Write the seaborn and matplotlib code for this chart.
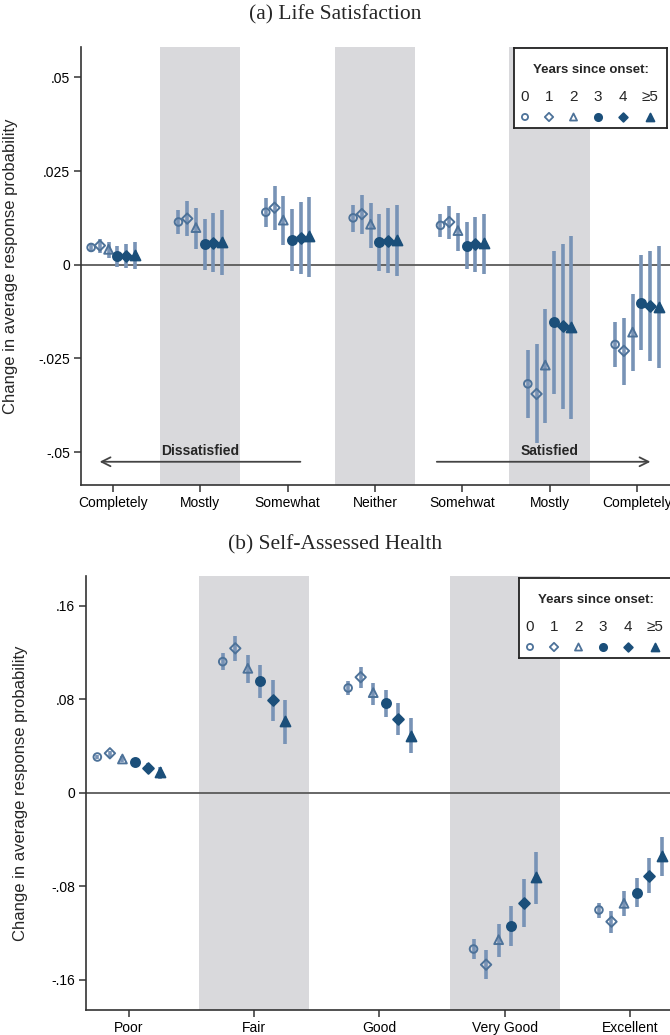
import numpy as np
import matplotlib
matplotlib.use("Agg")
import matplotlib.pyplot as plt
import seaborn as sns

# ---------------------------------------------------------------- data
years = ["0", "1", "2", "3", "4", "\u22655"]

ls_categories = ["Completely", "Mostly", "Somewhat", "Neither",
                 "Somehwat", "Mostly", "Completely"]
# rows: years since onset (0, 1, 2, 3, 4, >=5); columns: response categories
ls_est = [
    [0.0046, 0.0114, 0.0140, 0.0125, 0.0105, -0.0318, -0.0213],
    [0.0051, 0.0123, 0.0152, 0.0135, 0.0114, -0.0345, -0.0230],
    [0.0041, 0.0099, 0.0119, 0.0108, 0.0091, -0.0268, -0.0180],
    [0.0023, 0.0055, 0.0067, 0.0061, 0.0050, -0.0154, -0.0103],
    [0.0024, 0.0058, 0.0071, 0.0064, 0.0054, -0.0164, -0.0109],
    [0.0026, 0.0061, 0.0076, 0.0067, 0.0058, -0.0165, -0.0112],
]
ls_lo = [
    [0.0034, 0.0083, 0.0101, 0.0088, 0.0075, -0.0409, -0.0273],
    [0.0032, 0.0076, 0.0093, 0.0082, 0.0069, -0.0477, -0.0320],
    [0.0018, 0.0043, 0.0052, 0.0045, 0.0037, -0.0422, -0.0283],
    [-0.0005, -0.0014, -0.0017, -0.0016, -0.0012, -0.0344, -0.0229],
    [-0.0009, -0.0020, -0.0025, -0.0023, -0.0019, -0.0384, -0.0257],
    [-0.0012, -0.0027, -0.0034, -0.0030, -0.0026, -0.0412, -0.0275],
]
ls_hi = [
    [0.0057, 0.0146, 0.0179, 0.0159, 0.0134, -0.0228, -0.0154],
    [0.0069, 0.0171, 0.0209, 0.0187, 0.0157, -0.0212, -0.0142],
    [0.0061, 0.0151, 0.0184, 0.0165, 0.0139, -0.0118, -0.0079],
    [0.0050, 0.0123, 0.0149, 0.0134, 0.0113, 0.0037, 0.0025],
    [0.0056, 0.0138, 0.0167, 0.0150, 0.0127, 0.0056, 0.0037],
    [0.0061, 0.0147, 0.0181, 0.0160, 0.0136, 0.0077, 0.0051],
]
ls_yticks = [0.05, 0.025, 0, -0.025, -0.05]
ls_yticklabels = [".05", ".025", "0", "-.025", "-.05"]

sah_categories = ["Poor", "Fair", "Good", "Very Good", "Excellent"]
sah_est = [
    [0.0305, 0.1121, 0.0896, -0.1338, -0.1004],
    [0.0337, 0.1235, 0.0988, -0.1472, -0.1104],
    [0.0288, 0.1064, 0.0856, -0.1258, -0.0947],
    [0.0260, 0.0956, 0.0765, -0.1141, -0.0859],
    [0.0214, 0.0791, 0.0631, -0.0944, -0.0710],
    [0.0175, 0.0611, 0.0488, -0.0722, -0.0542],
]
sah_lo = [
    [0.0290, 0.1047, 0.0839, -0.1424, -0.1070],
    [0.0308, 0.1127, 0.0899, -0.1597, -0.1198],
    [0.0263, 0.0941, 0.0751, -0.1404, -0.1053],
    [0.0231, 0.0813, 0.0651, -0.1310, -0.0981],
    [0.0171, 0.0616, 0.0494, -0.1150, -0.0861],
    [0.0115, 0.0419, 0.0337, -0.0950, -0.0716],
]
sah_hi = [
    [0.0320, 0.1193, 0.0956, -0.1255, -0.0942],
    [0.0359, 0.1341, 0.1073, -0.1349, -0.1015],
    [0.0311, 0.1176, 0.0942, -0.1124, -0.0844],
    [0.0286, 0.1093, 0.0879, -0.0972, -0.0733],
    [0.0252, 0.0962, 0.0768, -0.0739, -0.0556],
    [0.0217, 0.0793, 0.0637, -0.0505, -0.0382],
]
sah_yticks = [0.16, 0.08, 0, -0.08, -0.16]
sah_yticklabels = [".16", ".08", "0", "-.08", "-.16"]

# ---------------------------------------------------------------- style
sns.set_style("ticks")
plt.rcParams["font.family"] = ["Liberation Sans", "DejaVu Sans"]

HOLLOW = "#4d7299"
FILLED = "#1b4f7a"
CI_COL = "#7893b6"
BAND = "#d9d9dc"
AXIS_COL = "#333333"

offsets = [-0.25, -0.15, -0.05, 0.05, 0.15, 0.25]
markers = ["o", "D", "^", "o", "D", "^"]
filled = [False, False, False, True, True, True]
sizes = [30, 28, 40, 42, 30, 50]

W, H = 670, 1035
fig = plt.figure(figsize=(W / 100, H / 100), dpi=100)


def px_axes(left, top, right, bottom):
    return fig.add_axes([left / W, 1 - bottom / H, (right - left) / W,
                         (bottom - top) / H])


def draw_panel(ax, cats, est, lo, hi, bands, half, xlim, ylim,
               yticks, yticklabels, label_x):
    pos = np.arange(1, len(cats) + 1)
    for b in bands:
        ax.axvspan(b - half, b + half, color=BAND, lw=0, zorder=0)
    ax.axhline(0, color="#5a5a5a", lw=1.3, zorder=1)
    for i in range(len(years)):
        x = pos + offsets[i]
        ax.vlines(x, lo[i], hi[i], color=CI_COL, lw=2.6, zorder=2)
        col = FILLED if filled[i] else HOLLOW
        face = col if filled[i] else "none"
        sns.scatterplot(x=x, y=est[i], ax=ax, marker=markers[i],
                        s=sizes[i], color=col, facecolor=face,
                        edgecolor=col, linewidth=1.4, zorder=3)
    ax.set_xlim(*xlim)
    ax.set_ylim(*ylim)
    ax.set_xticks(pos)
    ax.set_xticklabels(cats, fontsize=10)
    ax.set_yticks(yticks)
    ax.set_yticklabels(yticklabels, fontsize=10)
    ax.tick_params(axis="both", length=5, width=1.1, color=AXIS_COL,
                   labelcolor="black", pad=3)
    sns.despine(ax=ax)
    for side in ("left", "bottom"):
        ax.spines[side].set_color(AXIS_COL)
        ax.spines[side].set_linewidth(1.2)
    ax.set_ylabel("Change in average response probability", fontsize=12)
    ax.yaxis.set_label_coords(label_x, 0.5)
    ax.set_facecolor("white")


def add_key(left, top):
    k = px_axes(left, top, left + 153, top + 80)
    k.set_xlim(0, 153)
    k.set_ylim(80, 0)
    k.set_xticks([])
    k.set_yticks([])
    for sp in k.spines.values():
        sp.set_visible(True)
        sp.set_color("#222222")
        sp.set_linewidth(1.3)
    k.text(76.5, 22, "Years since onset:", ha="center", va="center",
           fontsize=9.5, fontweight="bold")
    xs = [11, 35, 59.5, 84, 108.5, 136]
    for i, lab in enumerate(years):
        k.text(xs[i], 49, lab, ha="center", va="center", fontsize=11)
        col = FILLED if filled[i] else HOLLOW
        face = col if filled[i] else "none"
        k.scatter(xs[i], 69, marker=markers[i], s=sizes[i] * 0.65,
                  facecolor=face, edgecolor=col, linewidth=1.3)
    return k


# ---------------------------------------------------------------- panel (a)
fig.text(0.5, 1 - 15 / H, "(a) Life Satisfaction", ha="center",
         va="center", family="Liberation Serif", fontsize=15.5)
ax_a = px_axes(81, 47, W, 485)
draw_panel(ax_a, ls_categories, ls_est, ls_lo, ls_hi, bands=[2, 4, 6],
           half=0.46, xlim=(0.634, 7.378), ylim=(-0.0588, 0.0581),
           yticks=ls_yticks, yticklabels=ls_yticklabels, label_x=-0.107)

arrow_kw = dict(arrowstyle="->", color="#444444", lw=1.3,
                mutation_scale=16, shrinkA=0, shrinkB=0)
ax_a.annotate("", xy=(0.847, -0.0526), xytext=(3.146, -0.0526),
              arrowprops=arrow_kw, zorder=4)
ax_a.annotate("", xy=(7.154, -0.0526), xytext=(4.708, -0.0526),
              arrowprops=arrow_kw, zorder=4)
ax_a.text(2.0, -0.0497, "Dissatisfied", ha="center", va="center",
          fontsize=10, fontweight="bold")
ax_a.text(6.0, -0.0497, "Satisfied", ha="center", va="center",
          fontsize=10, fontweight="bold")
add_key(514, 48)

# ---------------------------------------------------------------- panel (b)
fig.text(0.5, 1 - 545 / H, "(b) Self-Assessed Health", ha="center",
         va="center", family="Liberation Serif", fontsize=15.5)
ax_b = px_axes(86, 576, W, 1010)
draw_panel(ax_b, sah_categories, sah_est, sah_lo, sah_hi, bands=[2, 4],
           half=0.44, xlim=(0.6595, 5.3166), ylim=(-0.186, 0.1854),
           yticks=sah_yticks, yticklabels=sah_yticklabels, label_x=-0.099)
add_key(519, 578)

fig.savefig("out.png", dpi=100, facecolor="white")
